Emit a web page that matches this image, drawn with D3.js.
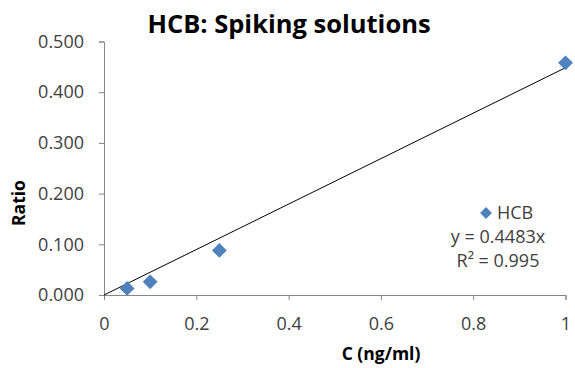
<!DOCTYPE html>
<html>
<head>
<meta charset="utf-8">
<script src="https://cdn.jsdelivr.net/npm/d3@7"></script>
<style>
  html, body { margin: 0; padding: 0; background: #fff; }
  svg { display: block; font-family: "Open Sans", sans-serif; }
</style>
</head>
<body>
<svg id="chart" width="575" height="368"></svg>
<script>
// Spiking-solution calibration data for HCB
const concentrations = [0.05, 0.1, 0.25, 1];
const ratios = [0.013, 0.026, 0.088, 0.458];
const yTicks = [0, 0.1, 0.2, 0.3, 0.4, 0.5];
const xTicks = [0, 0.2, 0.4, 0.6, 0.8, 1];
const slope = 0.4483;
const rSquared = "0.995";

const svg = d3.select("#chart");
const plot = { left: 104, right: 565.5, top: 41.5, bottom: 295 };

const x = d3.scaleLinear().domain([0, 1]).range([plot.left, plot.right]);
const y = d3.scaleLinear().domain([0, 0.5]).range([plot.bottom, plot.top]);

const axisColor = "#868686";
const textColor = "#404040";

// Title
svg.append("text")
  .attr("x", 289).attr("y", 33)
  .attr("text-anchor", "middle")
  .attr("font-size", 25.5).attr("font-weight", "bold")
  .attr("fill", "#000")
  .text("HCB: Spiking solutions");

// Y axis
const yAxis = svg.append("g")
  .attr("transform", `translate(${plot.left},0)`)
  .call(d3.axisLeft(y).tickValues(yTicks).tickFormat(d3.format(".3f")).tickSize(5).tickPadding(15));
// X axis
const xAxis = svg.append("g")
  .attr("transform", `translate(0,${plot.bottom})`)
  .call(d3.axisBottom(x).tickValues(xTicks).tickFormat(d => d3.format("")(d)).tickSize(5).tickPadding(17));

[yAxis, xAxis].forEach(g => {
  g.select(".domain").attr("stroke", axisColor).attr("stroke-width", 1);
  g.selectAll(".tick line").attr("stroke", axisColor);
  g.selectAll(".tick text")
    .attr("fill", textColor)
    .attr("font-size", 18)
    .attr("font-family", "Open Sans, sans-serif");
});

// Linear trendline through the origin
svg.append("line")
  .attr("x1", x(0)).attr("y1", y(0))
  .attr("x2", x(1)).attr("y2", y(slope * 1))
  .attr("stroke", "#000").attr("stroke-width", 1);

// Data markers
const diamond = d3.symbol().type(d3.symbolDiamond2).size(140);
svg.append("g").selectAll("path")
  .data(concentrations.map((c, i) => [c, ratios[i]]))
  .join("path")
  .attr("d", diamond)
  .attr("transform", d => `translate(${x(d[0])},${y(d[1])})`)
  .attr("fill", "#4F81BD");

// Axis titles
svg.append("text")
  .attr("transform", "translate(25,203) rotate(-90)")
  .attr("text-anchor", "middle")
  .attr("font-size", 17.5).attr("font-weight", "bold")
  .attr("fill", "#000")
  .text("Ratio");

svg.append("text")
  .attr("x", 381).attr("y", 360)
  .attr("text-anchor", "middle")
  .attr("font-size", 17.5).attr("font-weight", "bold")
  .attr("fill", "#000")
  .text("C (ng/ml)");

// Legend with trendline equation
const legend = svg.append("g");
legend.append("path")
  .attr("d", d3.symbol().type(d3.symbolDiamond2).size(90))
  .attr("transform", "translate(486,213)")
  .attr("fill", "#4F81BD");
legend.append("text")
  .attr("x", 497).attr("y", 219)
  .attr("font-size", 18).attr("fill", textColor)
  .text("HCB");
legend.append("text")
  .attr("x", 498).attr("y", 243)
  .attr("text-anchor", "middle")
  .attr("font-size", 18).attr("fill", textColor)
  .text(`y = ${slope}x`);
legend.append("text")
  .attr("x", 498).attr("y", 267)
  .attr("text-anchor", "middle")
  .attr("font-size", 18).attr("fill", textColor)
  .text(`R² = ${rSquared}`);
</script>
</body>
</html>
